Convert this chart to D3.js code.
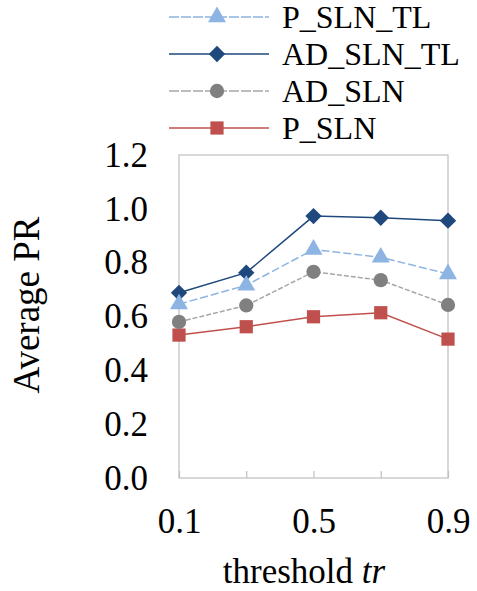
<!DOCTYPE html>
<html>
<head>
<meta charset="utf-8">
<script src="https://cdn.jsdelivr.net/npm/d3@7"></script>
<style>
  body { margin: 0; background: #fff; }
</style>
</head>
<body>
<script>
// data
const thresholds = ["0.1", "0.3", "0.5", "0.7", "0.9"];
const xLabels = ["0.1", "0.5", "0.9"];
const yTicks = [0, 0.2, 0.4, 0.6, 0.8, 1.0, 1.2];

const pSlnTl  = [0.646, 0.716, 0.849, 0.820, 0.758];
const adSlnTl = [0.688, 0.763, 0.973, 0.967, 0.956];
const adSln   = [0.580, 0.641, 0.766, 0.735, 0.643];
const pSln    = [0.531, 0.562, 0.599, 0.614, 0.516];

const seriesNames = ["P_SLN_TL", "AD_SLN_TL", "AD_SLN", "P_SLN"];

const width = 477, height = 591;
const plotLeft = 179, plotRight = 448, plotTop = 155, plotBottom = 478;
const font = "Liberation Serif";

// series styles
const series = [
  {name: seriesNames[0], values: pSlnTl,  line: "#8DB4E2", mark: "#8DB4E2", dash: "8,3", symbol: d3.symbolTriangle, size: 140},
  {name: seriesNames[1], values: adSlnTl, line: "#1F497D", mark: "#1F497D", dash: null,  symbol: d3.symbolDiamond2, size: 170},
  {name: seriesNames[2], values: adSln,   line: "#A6A6A6", mark: "#808080", dash: "5,2", symbol: d3.symbolCircle, size: 160},
  {name: seriesNames[3], values: pSln,    line: "#C0504D", mark: "#C0504D", dash: null,  symbol: d3.symbolSquare, size: 175}
];

const svg = d3.select("body").append("svg")
  .attr("width", width)
  .attr("height", height)
  .attr("font-family", font);

const x = d3.scalePoint()
  .domain(thresholds)
  .range([plotLeft, plotRight])
  .padding(0);

const y = d3.scaleLinear()
  .domain([0, 1.2])
  .range([plotBottom, plotTop]);

// plot box
svg.append("rect")
  .attr("x", plotLeft)
  .attr("y", plotTop)
  .attr("width", plotRight - plotLeft)
  .attr("height", plotBottom - plotTop)
  .attr("fill", "none")
  .attr("stroke", "#BFBFBF")
  .attr("stroke-width", 1.2);

// x axis, ticks pointing up into the plot
const xAxis = svg.append("g")
  .attr("transform", "translate(0," + plotBottom + ")")
  .call(d3.axisBottom(x)
    .tickSizeInner(-7)
    .tickSizeOuter(0)
    .tickFormat(function (d) { return xLabels.includes(d) ? d : ""; }));
xAxis.attr("font-family", font).attr("font-size", 35);
xAxis.select(".domain").remove();
xAxis.selectAll("line").attr("stroke", "#BFBFBF").attr("stroke-width", 1.2);
xAxis.selectAll("text")
  .attr("y", 55)
  .attr("dy", 0);

// y axis
const yAxis = svg.append("g")
  .attr("transform", "translate(" + plotLeft + ",0)")
  .call(d3.axisLeft(y)
    .tickValues(yTicks)
    .tickSize(0)
    .tickPadding(31)
    .tickFormat(d3.format(".1f")));
yAxis.attr("font-family", font).attr("font-size", 35);
yAxis.select(".domain").remove();

// axis titles
svg.append("text")
  .attr("transform", "translate(39,305) rotate(-90)")
  .attr("text-anchor", "middle")
  .attr("font-size", 37)
  .text("Average PR");

const xt = svg.append("text")
  .attr("x", 304)
  .attr("y", 583)
  .attr("text-anchor", "middle")
  .attr("font-size", 35);
xt.append("tspan").text("threshold ");
xt.append("tspan").attr("font-style", "italic").text("tr");

// lines and markers
const line = d3.line()
  .x(function (d, i) { return x(thresholds[i]); })
  .y(function (d) { return y(d); });

// draw back to front so the red series sits on top like the picture
series.slice().reverse().forEach(function (s) {
  svg.append("path")
    .datum(s.values)
    .attr("d", line)
    .attr("fill", "none")
    .attr("stroke", s.line)
    .attr("stroke-width", 1.5)
    .attr("stroke-dasharray", s.dash);

  svg.selectAll(null)
    .data(s.values)
    .enter()
    .append("path")
    .attr("d", d3.symbol().type(s.symbol).size(s.size))
    .attr("transform", function (d, i) {
      return "translate(" + x(thresholds[i]) + "," + y(d) + ")";
    })
    .attr("fill", s.mark);
});

// legend
const legend = svg.selectAll(".legend")
  .data(series)
  .enter()
  .append("g")
  .attr("class", "legend")
  .attr("transform", function (d, i) { return "translate(169," + (17 + i * 37) + ")"; });

legend.append("line")
  .attr("x1", 0)
  .attr("x2", 100)
  .attr("stroke", function (d) { return d.line; })
  .attr("stroke-width", 1.5)
  .attr("stroke-dasharray", function (d) { return d.dash ? "10,2" : null; });

legend.append("path")
  .attr("d", function (d) { return d3.symbol().type(d.symbol).size(d.size)(); })
  .attr("transform", "translate(48,0)")
  .attr("fill", function (d) { return d.mark; });

legend.append("text")
  .attr("x", 113)
  .attr("dy", "0.35em")
  .attr("font-size", 32)
  .text(function (d) { return d.name; });
</script>
</body>
</html>
